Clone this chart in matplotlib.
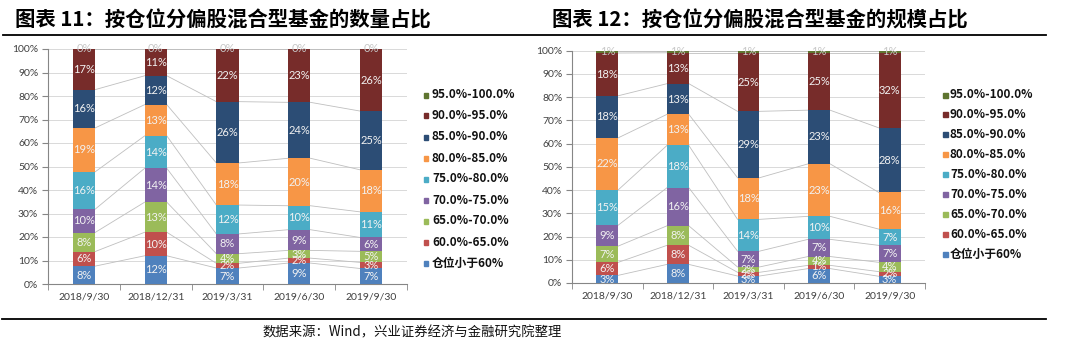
import matplotlib
matplotlib.use("Agg")
import matplotlib.pyplot as plt
from matplotlib.patches import Rectangle
from matplotlib.lines import Line2D

plt.rcParams['font.family'] = ['Lato', 'Noto Sans CJK SC', 'DejaVu Sans']

# ---------------- data ----------------
dates = ['2018/9/30', '2018/12/31', '2019/3/31', '2019/6/30', '2019/9/30']
series_names = ['仓位小于60%', '60.0%-65.0%', '65.0%-70.0%', '70.0%-75.0%', '75.0%-80.0%',
                '80.0%-85.0%', '85.0%-90.0%', '90.0%-95.0%', '95.0%-100.0%']
colors = ['#4F81BD', '#C0504D', '#9BBB59', '#8064A2', '#4BACC6',
          '#F79646', '#2C4D75', '#772C2A', '#5F7530']

# chart 11: share by number of funds (%)
count_lt60 = [7.6, 12.0, 6.8, 8.9, 6.6]
count_60_65 = [6.2, 10.0, 2.0, 2.1, 2.6]
count_65_70 = [8.1, 12.8, 4.1, 3.3, 4.7]
count_70_75 = [9.9, 14.4, 8.4, 8.8, 5.9]
count_75_80 = [15.9, 13.8, 12.3, 10.2, 10.9]
count_80_85 = [18.7, 13.3, 17.9, 20.2, 17.9]
count_85_90 = [16.3, 12.3, 26.1, 23.8, 25.0]
count_90_95 = [17.3, 11.4, 22.4, 22.7, 26.4]
count_95_100 = [0.0, 0.0, 0.0, 0.0, 0.0]

# chart 12: share by fund size (%)
size_lt60 = [3.3, 8.0, 3.0, 6.2, 2.9]
size_60_65 = [5.6, 8.2, 1.6, 1.4, 2.0]
size_65_70 = [7.0, 8.4, 2.3, 3.8, 4.0]
size_70_75 = [9.0, 16.4, 6.8, 7.4, 7.3]
size_75_80 = [15.2, 18.2, 13.7, 9.9, 7.0]
size_80_85 = [22.4, 13.4, 17.9, 22.6, 15.8]
size_85_90 = [18.1, 13.2, 28.6, 23.1, 27.8]
size_90_95 = [18.4, 13.3, 25.2, 24.7, 32.3]
size_95_100 = [1.0, 0.9, 0.9, 0.9, 0.9]

count_series = [count_lt60, count_60_65, count_65_70, count_70_75, count_75_80,
                count_80_85, count_85_90, count_90_95, count_95_100]
size_series = [size_lt60, size_60_65, size_65_70, size_70_75, size_75_80,
               size_80_85, size_85_90, size_90_95, size_95_100]

title1 = '图表 11：按仓位分偏股混合型基金的数量占比'
title2 = '图表 12：按仓位分偏股混合型基金的规模占比'
source = '数据来源：Wind，兴业证券经济与金融研究院整理'

W, H = 1072, 348
fig = plt.figure(figsize=(W / 100, H / 100), dpi=100)


def fx(px):
    return px / W


def fy(py):
    return 1 - py / H


def draw_chart(ax, series):
    n = len(dates)
    x = list(range(n))
    bw = 0.31
    bottoms = [0.0] * n
    tops_all = []
    for si, vals in enumerate(series):
        ax.bar(x, vals, bw, bottom=bottoms, color=colors[si], zorder=3, linewidth=0)
        for j in range(n):
            mid = bottoms[j] + vals[j] / 2
            col = '#F2F2F2' if si < len(series) - 1 else '#C8C8C8'
            ax.text(x[j], mid, f'{int(round(vals[j] + 1e-9))}%', ha='center', va='center',
                    fontsize=8, color=col, zorder=5, family=['Lato'])
        bottoms = [bottoms[j] + vals[j] for j in range(n)]
        tops_all.append(list(bottoms))
    # series lines
    for tops in tops_all:
        for j in range(n - 1):
            ax.plot([x[j] + bw / 2, x[j + 1] - bw / 2], [tops[j], tops[j + 1]],
                    color='#BFBFBF', lw=0.6, zorder=2)
    ax.set_xlim(-0.5, n - 0.5)
    ax.set_ylim(0, 100)
    ax.set_yticks(range(0, 101, 10))
    ax.set_yticklabels([f'{v}%' for v in range(0, 101, 10)], fontsize=7.5, color='#404040')
    ax.set_xticks(x)
    ax.set_xticklabels(dates, fontsize=7.5, color='#404040')
    ax.set_xticks([k - 0.5 for k in range(n + 1)], minor=True)
    ax.tick_params(axis='x', which='major', length=0, pad=6)
    ax.tick_params(axis='x', which='minor', length=4, color='#868686', direction='out')
    ax.tick_params(axis='y', length=4, color='#868686', direction='out', pad=3)
    ax.grid(axis='y', color='#D9D9D9', lw=0.7, zorder=0)
    for s in ['top', 'right']:
        ax.spines[s].set_visible(False)
    for s in ['left', 'bottom']:
        ax.spines[s].set_color('#868686')
        ax.spines[s].set_linewidth(0.8)


ax1 = fig.add_axes([fx(48), fy(284), fx(407 - 48), (284 - 49) / H])
draw_chart(ax1, count_series)
ax2 = fig.add_axes([fx(572), fy(283), fx(925 - 572), (283 - 50.7) / H])
draw_chart(ax2, size_series)


def draw_legend(xm, xt, y0, dy):
    order = list(range(len(series_names)))[::-1]
    for k, si in enumerate(order):
        yy = y0 + dy * k
        fig.patches.append(Rectangle((fx(xm - 2.5), fy(yy + 2.5)), fx(5), 5 / H,
                                     transform=fig.transFigure, color=colors[si]))
        fig.text(fx(xt), fy(yy), series_names[si], fontsize=8.5, color='#111111',
                 ha='left', va='center', fontweight='bold',
                 family=['Noto Sans CJK SC', 'DejaVu Sans'])


draw_legend(426, 432, 95, 21)
draw_legend(945, 950, 95, 19.9)

# titles
fig.text(fx(15), fy(20), title1, fontsize=14.7, fontweight='bold', ha='left', va='center',
         family=['Noto Sans CJK SC', 'DejaVu Sans'])
fig.text(fx(552), fy(20), title2, fontsize=14.7, fontweight='bold', ha='left', va='center',
         family=['Noto Sans CJK SC', 'DejaVu Sans'])
fig.lines.append(Line2D([fx(3), fx(1046)], [fy(35), fy(35)], transform=fig.transFigure,
                        color='black', lw=1.3))
fig.lines.append(Line2D([fx(2), fx(1046)], [fy(319), fy(319)], transform=fig.transFigure,
                        color='black', lw=1.3))
fig.text(fx(263), fy(332), source, fontsize=9.6, ha='left', va='center', color='#111111',
         family=['Noto Sans CJK SC', 'DejaVu Sans'])

fig.savefig('out.png', dpi=100)
